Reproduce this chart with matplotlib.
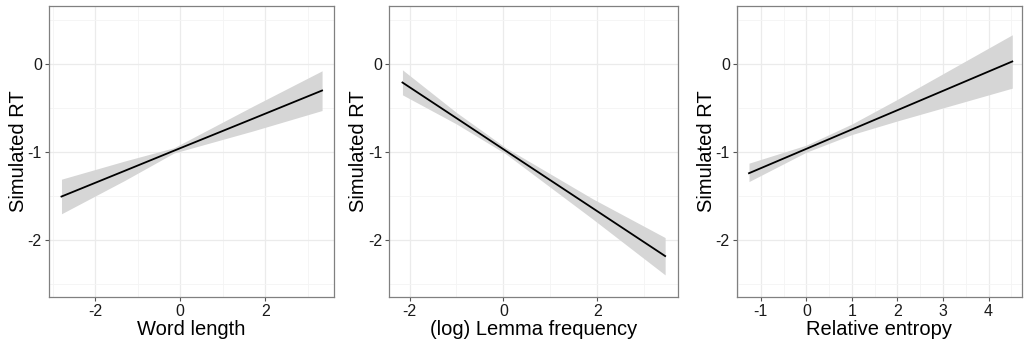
import numpy as np
import matplotlib
matplotlib.use("Agg")
import matplotlib.pyplot as plt
from matplotlib.ticker import MultipleLocator

plt.rcParams['font.family'] = ['Liberation Sans', 'DejaVu Sans']
plt.rcParams['axes.unicode_minus'] = False

# effect estimates (x, fit, upper, lower)
wl_x = [-2.79, -1.3, -0.15, 1.7, 3.33]
wl_fit = [-1.504, -1.211, -0.984, -0.621, -0.300]
wl_upper = [-1.307, -1.10, -0.95, -0.48, -0.076]
wl_lower = [-1.70, -1.32, -1.01, -0.76, -0.527]

lf_x = [-2.15, -1.0, 0.05, 1.9, 3.44]
lf_fit = [-0.209, -0.614, -0.985, -1.637, -2.180]
lf_upper = [-0.065, -0.55, -0.95, -1.53, -1.97]
lf_lower = [-0.349, -0.68, -1.02, -1.76, -2.394]

re_x = [-1.26, 0.0, 1.0, 2.0, 4.52]
re_fit = [-1.239, -0.962, -0.742, -0.523, 0.030]
re_upper = [-1.125, -0.92, -0.68, -0.40, 0.333]
re_lower = [-1.334, -1.00, -0.80, -0.645, -0.273]

panels = [
    ("Word length", wl_x, wl_fit, wl_upper, wl_lower, (-3.09, 3.61), [-2, 0, 2], 1.0),
    ("(log) Lemma frequency", lf_x, lf_fit, lf_upper, lf_lower, (-2.43, 3.72), [-2, 0, 2], 1.0),
    ("Relative entropy", re_x, re_fit, re_upper, re_lower, (-1.53, 4.74), [-1, 0, 1, 2, 3, 4], 0.5),
]

W, H = 1032, 346
fig = plt.figure(figsize=(W / 100, H / 100), dpi=100)
lefts = [48.7, 389.3, 736.7]
widths = [285.3, 289.0, 285.6]
top, bottom = 6, 297

for i, (label, x, fit, up, lo, xlim, xt, minor_step) in enumerate(panels):
    ax = fig.add_axes([lefts[i] / W, (H - bottom) / H, widths[i] / W, (bottom - top) / H])
    ax.fill_between(x, lo, up, color="#d6d6d6", lw=0, zorder=2)
    ax.plot(x, fit, color="black", lw=1.3, zorder=3)
    ax.set_xlim(*xlim)
    ax.set_ylim(-2.645, 0.66)
    ax.set_xticks(xt)
    ax.set_yticks([-2, -1, 0])
    ax.xaxis.set_minor_locator(MultipleLocator(minor_step))
    ax.yaxis.set_minor_locator(MultipleLocator(0.5))
    ax.grid(which="major", color="#ebebeb", lw=0.9, zorder=0)
    ax.grid(which="minor", color="#f4f4f4", lw=0.6, zorder=0)
    ax.set_axisbelow(True)
    ax.tick_params(which="minor", length=0)
    ax.tick_params(which="major", length=3, width=0.8, color="#555555",
                   labelsize=11.5, labelcolor="#1a1a1a", pad=2)
    for s in ax.spines.values():
        s.set_color("#808080")
        s.set_linewidth(0.9)
    ax.set_xlabel(label, fontsize=14.5, color="black", labelpad=0.5)
    ax.set_ylabel("Simulated RT", fontsize=14.5, color="black", labelpad=0)

fig.savefig("out.png", dpi=100)
